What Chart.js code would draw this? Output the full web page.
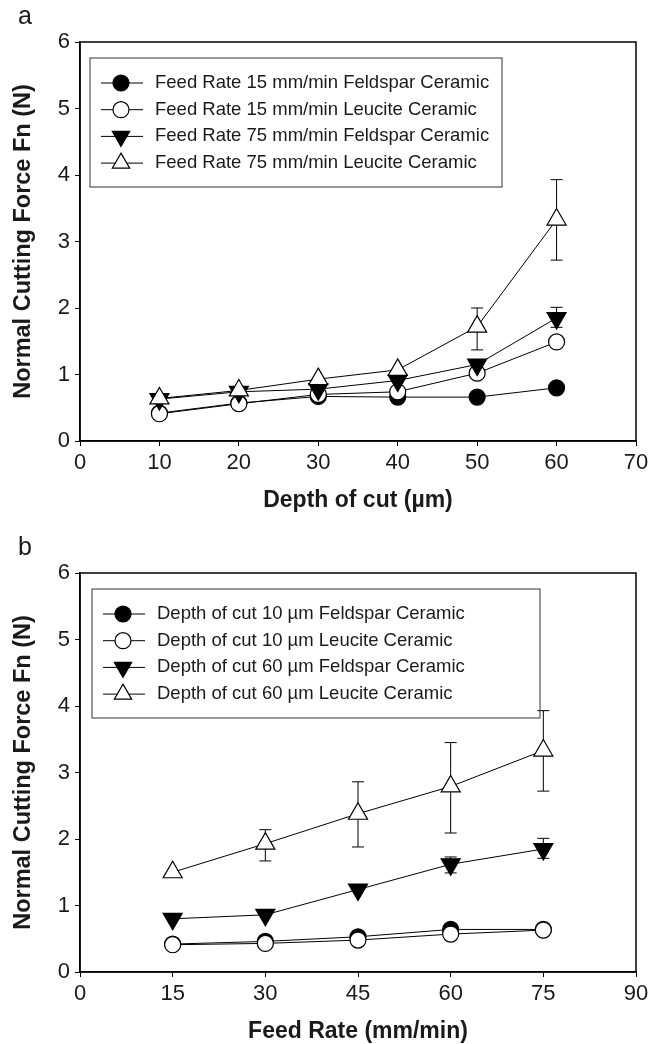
<!DOCTYPE html>
<html>
<head>
<meta charset="utf-8">
<script src="https://cdn.jsdelivr.net/npm/chart.js"></script>
<style>
  body { margin: 0; background: #fff; width: 660px; height: 1044px; overflow: hidden; position: relative; }
  .panel { position: absolute; left: 0; width: 660px; height: 520px; }
</style>
</head>
<body>
<div class="panel" style="top:0"><canvas id="chartA" width="660" height="520"></canvas></div>
<div class="panel" style="top:531px"><canvas id="chartB" width="660" height="520"></canvas></div>
<script>
// panel a : force vs depth of cut
const depthOfCut = [10, 20, 30, 40, 50, 60];
const aFeld15 = [0.42, 0.57, 0.67, 0.66, 0.66, 0.80];
const aLeuc15 = [0.41, 0.56, 0.70, 0.74, 1.02, 1.49];
const aFeld75 = [0.63, 0.74, 0.78, 0.91, 1.15, 1.85];
const aLeuc75 = [0.64, 0.76, 0.93, 1.07, 1.72, 3.33];
const aFeld75Lo = [null, null, null, null, null, 1.71];
const aFeld75Hi = [null, null, null, null, null, 2.01];
const aLeuc75Lo = [null, null, null, null, 1.37, 2.72];
const aLeuc75Hi = [null, null, null, null, 2.00, 3.93];
const aLabels = [
  'Feed Rate 15 mm/min Feldspar Ceramic',
  'Feed Rate 15 mm/min Leucite Ceramic',
  'Feed Rate 75 mm/min Feldspar Ceramic',
  'Feed Rate 75 mm/min Leucite Ceramic'
];

// panel b : force vs feed rate
const feedRate = [15, 30, 45, 60, 75];
const bFeld10 = [0.42, 0.46, 0.53, 0.64, 0.64];
const bLeuc10 = [0.41, 0.43, 0.48, 0.57, 0.63];
const bFeld60 = [0.80, 0.86, 1.24, 1.62, 1.85];
const bLeuc60 = [1.50, 1.93, 2.38, 2.79, 3.33];
const bFeld60Lo = [null, null, null, 1.49, 1.71];
const bFeld60Hi = [null, null, null, 1.73, 2.01];
const bLeuc60Lo = [null, 1.67, 1.88, 2.09, 2.72];
const bLeuc60Hi = [null, 2.14, 2.86, 3.45, 3.93];
const bLabels = [
  'Depth of cut 10 \u00b5m Feldspar Ceramic',
  'Depth of cut 10 \u00b5m Leucite Ceramic',
  'Depth of cut 60 \u00b5m Feldspar Ceramic',
  'Depth of cut 60 \u00b5m Leucite Ceramic'
];

const yTicks = [0, 1, 2, 3, 4, 5, 6];
const FONT = "'Liberation Sans', Arial, sans-serif";
const INK = '#1a1a1a';

// marker looks for the 4 series: filled circle, open circle, filled down-triangle, open triangle
const looks = [
  { pointStyle: 'circle', pointRadius: 8, pointRotation: 0, fill: '#000' },
  { pointStyle: 'circle', pointRadius: 8, pointRotation: 0, fill: '#fff' },
  { pointStyle: 'triangle', pointRadius: 11, pointRotation: 180, fill: '#000' },
  { pointStyle: 'triangle', pointRadius: 11, pointRotation: 0, fill: '#fff' }
];

function series(xs, ys, label, i) {
  const l = looks[i];
  return {
    label: label,
    data: xs.map((x, k) => ({ x: x, y: ys[k] })),
    borderColor: '#000',
    borderWidth: 1,
    pointStyle: l.pointStyle,
    pointRadius: l.pointRadius,
    pointRotation: l.pointRotation,
    pointBackgroundColor: l.fill,
    pointBorderColor: '#000',
    pointBorderWidth: 1.2,
    order: 3 - i,
    tension: 0
  };
}

// error bars, frame, legend box and panel letter
const extras = {
  id: 'extras',
  beforeDatasetsDraw(chart, args, o) {
    const { ctx, scales: { x, y } } = chart;
    ctx.save();
    ctx.strokeStyle = '#000';
    ctx.lineWidth = 1;
    o.errors.forEach(e => {
      e.lo.forEach((lo, k) => {
        if (lo == null) return;
        const px = x.getPixelForValue(e.xs[k]);
        const y1 = y.getPixelForValue(lo), y2 = y.getPixelForValue(e.hi[k]);
        ctx.beginPath();
        ctx.moveTo(px, y1); ctx.lineTo(px, y2);
        ctx.moveTo(px - 6, y1); ctx.lineTo(px + 6, y1);
        ctx.moveTo(px - 6, y2); ctx.lineTo(px + 6, y2);
        ctx.stroke();
      });
    });
    ctx.restore();
  },
  afterDraw(chart, args, o) {
    const { ctx, chartArea: a } = chart;
    ctx.save();
    ctx.strokeStyle = '#000';
    ctx.lineWidth = 1.5;
    ctx.strokeRect(a.left, a.top, a.right - a.left, a.bottom - a.top);

    // legend
    const bx = o.legend.left, by = a.top + 16, bw = o.legend.width, bh = 129;
    ctx.lineWidth = 1;
    ctx.strokeStyle = '#333';
    ctx.strokeRect(bx, by, bw, bh);
    ctx.font = '18.5px ' + FONT;
    ctx.textBaseline = 'middle';
    ctx.textAlign = 'left';
    chart.data.datasets.forEach((ds, i) => {
      const ly = by + 25 + i * 26.7;
      ctx.strokeStyle = '#000';
      ctx.lineWidth = 1;
      ctx.beginPath();
      ctx.moveTo(bx + 11, ly); ctx.lineTo(bx + 53, ly);
      ctx.stroke();
      ctx.fillStyle = ds.pointBackgroundColor;
      ctx.lineWidth = ds.pointBorderWidth;
      Chart.helpers.drawPoint(ctx, {
        pointStyle: ds.pointStyle, radius: ds.pointStyle === 'triangle' ? 10 : ds.pointRadius,
        rotation: ds.pointRotation, borderWidth: ds.pointBorderWidth
      }, bx + 31, ly);
      ctx.fillStyle = INK;
      ctx.fillText(ds.label, bx + 65, ly);
    });

    ctx.font = '25px ' + FONT;
    ctx.fillStyle = INK;
    ctx.fillText(o.tag, 18, 17);
    ctx.restore();
  }
};

function makeChart(id, xs, sets, labels, errors, xMax, xStep, xTitle, tag, legendLeft, legendWidth) {
  new Chart(document.getElementById(id), {
    type: 'line',
    data: { datasets: sets.map((ys, i) => series(xs, ys, labels[i], i)) },
    options: {
      responsive: false,
      animation: false,
      layout: { padding: { top: 42, right: 24, left: 0, bottom: 0 } },
      plugins: {
        legend: { display: false },
        tooltip: { enabled: false },
        extras: { errors: errors, tag: tag, legend: { left: legendLeft, width: legendWidth } }
      },
      scales: {
        x: {
          type: 'linear', min: 0, max: xMax,
          ticks: { stepSize: xStep, color: INK, font: { family: FONT, size: 22 }, padding: 4 },
          grid: { drawOnChartArea: false, tickLength: 5, color: '#000' },
          border: { color: '#000', width: 1.5 },
          title: { display: true, text: xTitle, color: INK, font: { family: FONT, size: 23, weight: 'bold' }, padding: { top: 0, bottom: 6 } },
          afterFit: s => { s.height = 79; }
        },
        y: {
          min: 0, max: 6,
          afterBuildTicks: s => { s.ticks = yTicks.map(v => ({ value: v })); },
          ticks: { color: INK, font: { family: FONT, size: 22 }, padding: 5 },
          grid: { drawOnChartArea: false, tickLength: 5, color: '#000' },
          border: { color: '#000', width: 1.5 },
          title: { display: true, text: 'Normal Cutting Force Fn (N)', color: INK, font: { family: FONT, size: 23.5, weight: 'bold' }, padding: { top: 9, bottom: 0 } },
          afterFit: s => { s.width = 80; }
        }
      }
    },
    plugins: [extras]
  });
}

makeChart('chartA', depthOfCut, [aFeld15, aLeuc15, aFeld75, aLeuc75], aLabels,
  [{ xs: depthOfCut, lo: aFeld75Lo, hi: aFeld75Hi }, { xs: depthOfCut, lo: aLeuc75Lo, hi: aLeuc75Hi }],
  70, 10, 'Depth of cut (\u00b5m)', 'a', 90, 412);

makeChart('chartB', feedRate, [bFeld10, bLeuc10, bFeld60, bLeuc60], bLabels,
  [{ xs: feedRate, lo: bFeld60Lo, hi: bFeld60Hi }, { xs: feedRate, lo: bLeuc60Lo, hi: bLeuc60Hi }],
  90, 15, 'Feed Rate (mm/min)', 'b', 92, 448);
</script>
</body>
</html>
